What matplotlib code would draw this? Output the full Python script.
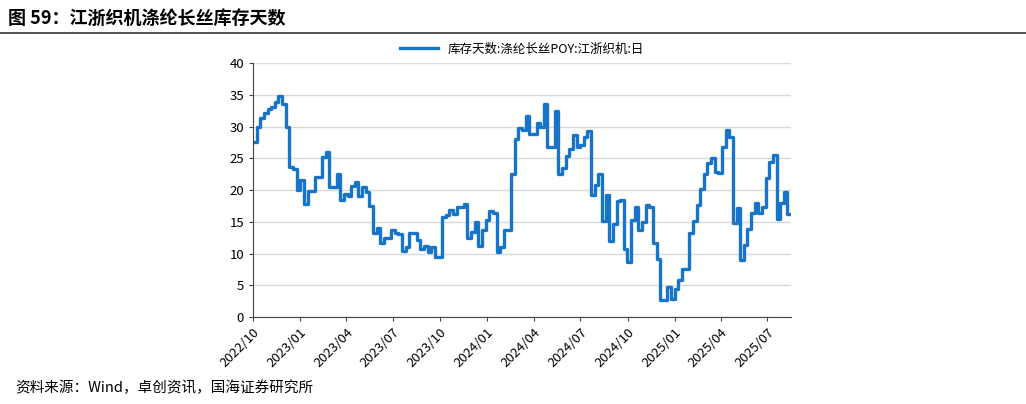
import matplotlib
matplotlib.use("Agg")
import matplotlib.pyplot as plt
import matplotlib.dates as mdates
import pandas as pd

plt.rcParams['font.family'] = ['Noto Sans CJK SC', 'DejaVu Sans']

values = [27.5, 30, 31.3, 32.2, 32.7, 33, 33.8, 34.8, 33.6, 30, 23.7, 23.3, 20, 21.6, 17.8,
          19.8, 19.8, 22, 22, 25.2, 26, 20.5, 20.5, 22.5, 18.5, 19.3, 19, 20.6, 21.2, 19, 20.5,
          19.7, 17.5, 13.2, 14, 11.6, 12.5, 12.5, 13.7, 13.2, 13, 10.4, 11, 13.2, 13.2, 12.1,
          10.7, 11.2, 10.3, 11, 9.4, 9.4, 15.7, 16, 16.8, 16.3, 17.4, 17.4, 17.8, 12.4, 13.4,
          14.9, 11.2, 13.7, 15.3, 16.7, 16.4, 10.3, 11, 13.7, 13.7, 22.5, 28.1, 29.7, 29.4,
          31.7, 28.9, 28.9, 30.5, 30, 33.6, 26.7, 26.7, 32.5, 22.6, 23.4, 25.4, 26.4, 28.7,
          26.7, 27.1, 28.4, 29.3, 19.2, 20.8, 22.5, 15.2, 19.2, 11.9, 14.6, 18.2, 18.5, 10.7,
          8.7, 15.3, 17.4, 13.7, 15, 17.6, 17.4, 11.7, 9.2, 2.7, 2.7, 4.8, 2.8, 4.4, 5.8, 7.5,
          7.5, 13.2, 15.2, 17.6, 20.1, 22.5, 24.2, 25.1, 22.9, 22.7, 26.8, 29.4, 28.4, 14.8,
          17.1, 9, 11.3, 13.8, 16.4, 17.9, 16.4, 17.4, 21.9, 24.4, 25.5, 15.4, 18, 19.7, 16.2, 16.2]
start, end = "2022-10-01", "2025-08-16"
dates = pd.date_range(start, end, periods=len(values))
tick_dates = pd.date_range("2022-10-01", "2025-07-01", freq="3MS")
series_name = "库存天数:涤纶长丝POY:江浙织机:日"
title = "图 59：江浙织机涤纶长丝库存天数"
source = "资料来源：Wind，卓创资讯，国海证券研究所"

fig = plt.figure(figsize=(10.26, 4.04), dpi=100)
ax = fig.add_axes([0.2466, 0.2153, 0.5244, 0.6287])
ax.plot(dates, values, drawstyle="steps-post", color="#1874c8", lw=2.4, label=series_name)
ax.set_xlim(pd.Timestamp(start), pd.Timestamp(end))
ax.set_ylim(0, 40)
ax.set_yticks(range(0, 41, 5))
ax.set_xticks(tick_dates)
ax.xaxis.set_major_formatter(mdates.DateFormatter("%Y/%m"))
plt.setp(ax.get_xticklabels(), rotation=45, ha="right", rotation_mode="anchor")
ax.tick_params(labelsize=9.5, color="#444444", length=3)
ax.grid(axis="y", color="#d9d9d9", lw=1)
ax.set_axisbelow(True)
for s in ["top", "right"]:
    ax.spines[s].set_visible(False)
for s in ["left", "bottom"]:
    ax.spines[s].set_color("#444444")
ax.legend(loc="lower center", bbox_to_anchor=(0.5, 1.0), frameon=False, fontsize=9,
          handlelength=3, borderaxespad=0.2)
fig.text(0.008, 0.955, title, fontsize=13, fontweight="bold", va="center")
fig.add_artist(plt.Line2D([0.0, 1.0], [0.918, 0.918], color="#333333", lw=1.2))
fig.text(0.015, 0.04, source, fontsize=10.5, va="center")
fig.savefig("out.png", dpi=100)
